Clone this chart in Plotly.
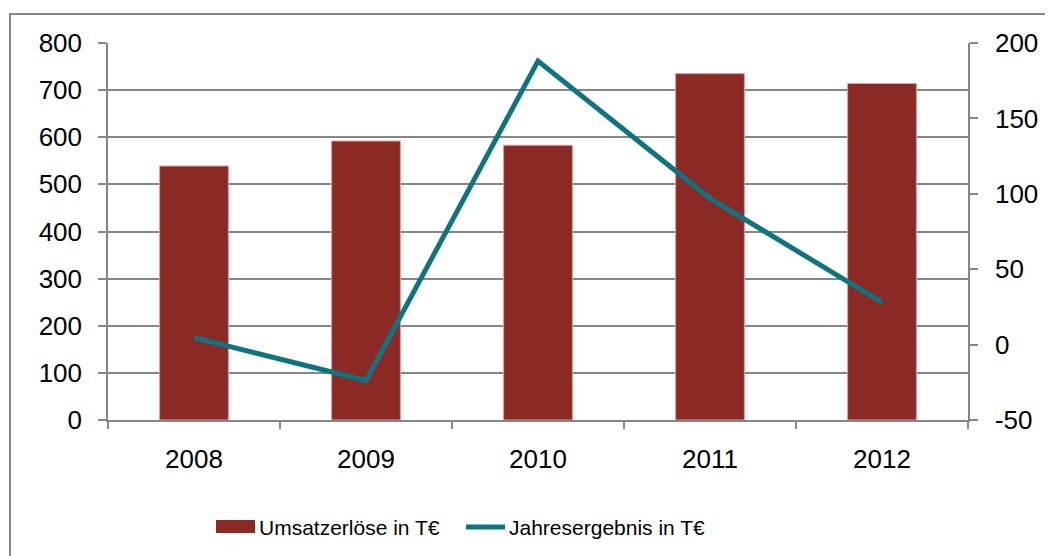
import plotly.graph_objects as go

years = ["2008", "2009", "2010", "2011", "2012"]
umsatz = [539, 592, 583, 735, 714]
jahresergebnis = [4.6, -23.8, 188, 97, 28]
y2_ticks = [-50, 0, 50, 100, 150, 200]
bar_name = "Umsatzerlöse in T€"
line_name = "Jahresergebnis in T€"

BAR_COLOR = "#8B2A25"
LINE_COLOR = "#0F7480"
AXIS_COLOR = "#868686"
FONT = "Liberation Sans, Arial, sans-serif"

OFF = 8  # page body margin
W, H = 1053 - OFF, 556 - OFF
# desired plot area in page coords: x 108..968, y 43..420
L = 108 - OFF
T = 43 - OFF
R = W - (968 - OFF)
B = H - (420 - OFF)
pw, ph = W - L - R, H - T - B

def px(x):
    return (x - OFF - L) / pw

def py(y):
    return (H - B - (y - OFF)) / ph

fig = go.Figure()
fig.add_trace(go.Bar(x=years, y=umsatz, name=bar_name, width=0.4,
                     marker=dict(color=BAR_COLOR, line=dict(color="#D9A09C", width=1)),
                     showlegend=False))
fig.add_trace(go.Scatter(x=years, y=jahresergebnis, name=line_name, yaxis="y2",
                         mode="lines", line=dict(color=LINE_COLOR, width=5),
                         showlegend=False))

fig.update_layout(
    width=W, height=H,
    margin=dict(l=L, r=R, t=T, b=B),
    paper_bgcolor="white", plot_bgcolor="white",
    font=dict(family=FONT, size=26, color="black"),
    xaxis=dict(type="category", showline=True, linecolor=AXIS_COLOR, linewidth=1.5,
               ticks="outside", tickson="boundaries", ticklen=7, tickcolor=AXIS_COLOR,
               tickwidth=1.5, showgrid=False, ticklabelstandoff=15,
               tickfont=dict(size=26)),
    yaxis=dict(range=[0, 800], dtick=100, showline=True, linecolor=AXIS_COLOR, linewidth=1.5,
               ticks="outside", ticklen=8, tickcolor=AXIS_COLOR, tickwidth=1.5,
               showgrid=True, gridcolor=AXIS_COLOR, gridwidth=1.5, zeroline=False,
               ticklabelstandoff=11, tickfont=dict(size=26)),
    yaxis2=dict(range=[-50, 200], tickvals=y2_ticks, ticktext=[str(v) for v in y2_ticks],
                overlaying="y", side="right",
                showline=True, linecolor=AXIS_COLOR, linewidth=1.5,
                ticks="outside", ticklen=8, tickcolor=AXIS_COLOR, tickwidth=1.5,
                showgrid=False, zeroline=False, ticklabelstandoff=12,
                tickfont=dict(size=26)),
)

# outer chart border
fig.add_shape(type="rect", xref="paper", yref="paper",
              x0=px(10), x1=px(1051), y0=py(580), y1=py(14),
              line=dict(color="#898989", width=2), fillcolor="rgba(0,0,0,0)", layer="below")

# manual legend
fig.add_shape(type="rect", xref="paper", yref="paper",
              x0=px(216), x1=px(255), y0=py(533), y1=py(520),
              line=dict(width=0), fillcolor=BAR_COLOR)
fig.add_shape(type="line", xref="paper", yref="paper",
              x0=px(466), x1=px(505), y0=py(527), y1=py(527),
              line=dict(color=LINE_COLOR, width=5))
fig.add_annotation(xref="paper", yref="paper", x=px(257), y=py(527),
                   xanchor="left", yanchor="middle", showarrow=False,
                   text=bar_name, font=dict(family=FONT, size=21, color="black"))
fig.add_annotation(xref="paper", yref="paper", x=px(507), y=py(527),
                   xanchor="left", yanchor="middle", showarrow=False,
                   text=line_name, font=dict(family=FONT, size=21, color="black"))

fig.write_html("out.html")
